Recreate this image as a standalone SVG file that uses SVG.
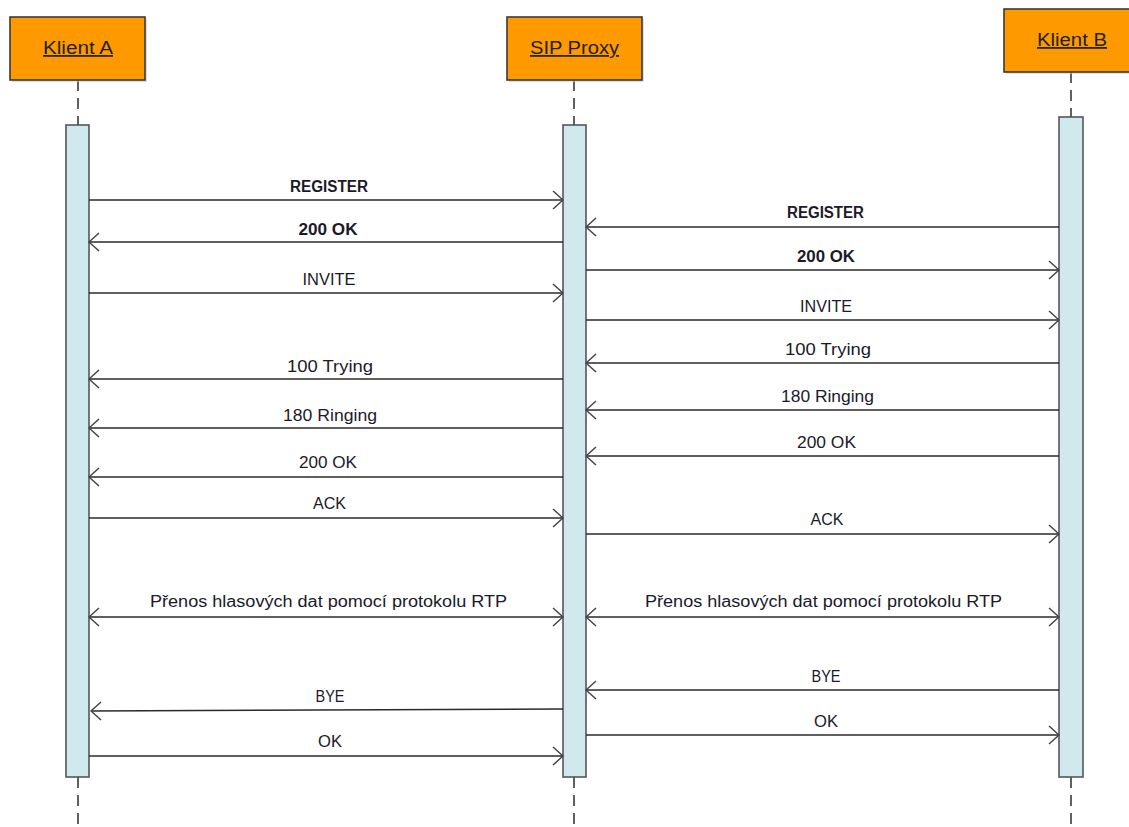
<svg xmlns="http://www.w3.org/2000/svg" width="1129" height="827" viewBox="0 0 1129 827">
  <style>
    .head { fill: #FF9900; stroke: #3a3a3a; stroke-width: 1.6; }
    .shadow { fill: #c8c8c8; opacity: 0.6; }
    .head-text { font-family: "Liberation Sans", Arial, sans-serif; font-size: 18px; fill: #222; text-anchor: middle; text-decoration: underline; }
    .life { stroke: #3a3a3a; stroke-width: 1.6; stroke-dasharray: 11 7; fill: none; }
    .act { fill: #CFE9EE; stroke: #555; stroke-width: 1.6; }
    .msg { stroke: #2a2a2a; stroke-width: 1.5; fill: none; marker-end: url(#open); }
    .both { marker-start: url(#open); }
    .lbl { font-family: "Liberation Sans", Arial, sans-serif; font-size: 16px; fill: #1a1a2a; text-anchor: middle; }
    .bold { font-weight: bold; }
  </style>
  <defs>
    <marker id="open" markerUnits="userSpaceOnUse" viewBox="0 0 12 20" markerWidth="12" markerHeight="20" refX="11" refY="10" orient="auto-start-reverse">
      <path d="M1,1 L11,10 L1,19" fill="none" stroke="#444" stroke-width="1.5"/>
    </marker>
  </defs>
  <rect width="1129" height="827" fill="#fff"/>

  <!-- participant: Klient A -->
  <g id="klient-a">
    <line class="life" x1="78" y1="80" x2="78" y2="125"/>
    <line class="life" x1="78" y1="777" x2="78" y2="827"/>
    <rect class="shadow" x="12" y="19" width="135" height="63"/>
    <rect class="head" x="10" y="17" width="135" height="63"/>
    <text class="head-text" x="78" y="54" textLength="70" lengthAdjust="spacingAndGlyphs">Klient A</text>
    <rect class="act" x="66" y="125" width="23" height="652"/>
  </g>

  <!-- participant: SIP Proxy -->
  <g id="sip-proxy">
    <line class="life" x1="574" y1="80" x2="574" y2="125"/>
    <line class="life" x1="574" y1="777" x2="574" y2="827"/>
    <rect class="shadow" x="509" y="19" width="135" height="63"/>
    <rect class="head" x="507" y="17" width="135" height="63"/>
    <text class="head-text" x="574.5" y="54" textLength="89" lengthAdjust="spacingAndGlyphs">SIP Proxy</text>
    <rect class="act" x="563" y="125" width="23" height="652"/>
  </g>

  <!-- participant: Klient B -->
  <g id="klient-b">
    <line class="life" x1="1071" y1="72" x2="1071" y2="117"/>
    <line class="life" x1="1071" y1="777" x2="1071" y2="827"/>
    <rect class="shadow" x="1006" y="11" width="135" height="63"/>
    <rect class="head" x="1004" y="9" width="135" height="63"/>
    <text class="head-text" x="1072" y="46" textLength="70" lengthAdjust="spacingAndGlyphs">Klient B</text>
    <rect class="act" x="1059" y="117" width="24" height="660"/>
  </g>

  <!-- messages -->
  <g id="connectors">
    <!-- Klient A <-> SIP Proxy -->
    <line class="msg" x1="89" y1="200" x2="563" y2="200"/>
    <line class="msg" x1="563" y1="242" x2="89" y2="242"/>
    <line class="msg" x1="89" y1="293" x2="563" y2="293"/>
    <line class="msg" x1="563" y1="379" x2="89" y2="379"/>
    <line class="msg" x1="563" y1="428" x2="89" y2="428"/>
    <line class="msg" x1="563" y1="477" x2="89" y2="477"/>
    <line class="msg" x1="89" y1="518" x2="563" y2="518"/>
    <line class="msg both" x1="89" y1="617" x2="563" y2="617"/>
    <line class="msg" x1="563" y1="709" x2="91" y2="711"/>
    <line class="msg" x1="89" y1="756" x2="563" y2="756"/>

    <!-- SIP Proxy <-> Klient B -->
    <line class="msg" x1="1059" y1="227" x2="586" y2="227"/>
    <line class="msg" x1="586" y1="270" x2="1059" y2="270"/>
    <line class="msg" x1="586" y1="320" x2="1059" y2="320"/>
    <line class="msg" x1="1059" y1="363" x2="586" y2="363"/>
    <line class="msg" x1="1059" y1="410" x2="586" y2="410"/>
    <line class="msg" x1="1059" y1="456" x2="586" y2="456"/>
    <line class="msg" x1="586" y1="534" x2="1059" y2="534"/>
    <line class="msg both" x1="586" y1="617" x2="1059" y2="617"/>
    <line class="msg" x1="1059" y1="690" x2="586" y2="690"/>
    <line class="msg" x1="586" y1="735" x2="1059" y2="735"/>
  </g>

  <!-- message labels -->
  <g id="labels">
    <text class="lbl bold" x="329" y="192" textLength="78" lengthAdjust="spacingAndGlyphs">REGISTER</text>
    <text class="lbl bold" x="328" y="235" textLength="59" lengthAdjust="spacingAndGlyphs">200 OK</text>
    <text class="lbl" x="329" y="285" textLength="53" lengthAdjust="spacingAndGlyphs">INVITE</text>
    <text class="lbl" x="330" y="372" textLength="86" lengthAdjust="spacingAndGlyphs">100 Trying</text>
    <text class="lbl" x="330" y="421" textLength="94" lengthAdjust="spacingAndGlyphs">180 Ringing</text>
    <text class="lbl" x="328" y="468" textLength="58" lengthAdjust="spacingAndGlyphs">200 OK</text>
    <text class="lbl" x="329.5" y="509" textLength="33" lengthAdjust="spacingAndGlyphs">ACK</text>
    <text class="lbl" x="328.5" y="607" textLength="357" lengthAdjust="spacingAndGlyphs">Přenos hlasových dat pomocí protokolu RTP</text>
    <text class="lbl" x="330" y="702" textLength="29" lengthAdjust="spacingAndGlyphs">BYE</text>
    <text class="lbl" x="330" y="747" textLength="24" lengthAdjust="spacingAndGlyphs">OK</text>

    <text class="lbl bold" x="825.5" y="218" textLength="77" lengthAdjust="spacingAndGlyphs">REGISTER</text>
    <text class="lbl bold" x="826" y="262" textLength="58" lengthAdjust="spacingAndGlyphs">200 OK</text>
    <text class="lbl" x="826" y="312" textLength="52" lengthAdjust="spacingAndGlyphs">INVITE</text>
    <text class="lbl" x="828" y="355" textLength="86" lengthAdjust="spacingAndGlyphs">100 Trying</text>
    <text class="lbl" x="827.5" y="402" textLength="93" lengthAdjust="spacingAndGlyphs">180 Ringing</text>
    <text class="lbl" x="826.5" y="448" textLength="59" lengthAdjust="spacingAndGlyphs">200 OK</text>
    <text class="lbl" x="827" y="525" textLength="33" lengthAdjust="spacingAndGlyphs">ACK</text>
    <text class="lbl" x="823.5" y="607" textLength="357" lengthAdjust="spacingAndGlyphs">Přenos hlasových dat pomocí protokolu RTP</text>
    <text class="lbl" x="826" y="682" textLength="29" lengthAdjust="spacingAndGlyphs">BYE</text>
    <text class="lbl" x="826" y="727" textLength="24" lengthAdjust="spacingAndGlyphs">OK</text>
  </g>
</svg>
